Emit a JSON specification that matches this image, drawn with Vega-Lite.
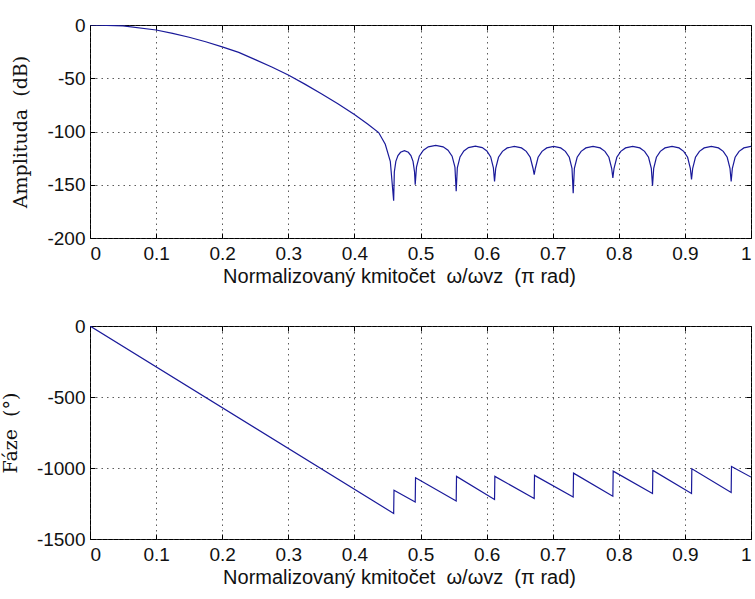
{
  "$schema": "https://vega.github.io/schema/vega-lite/v6.json",
  "autosize": {"type": "pad"},
  "padding": {"left": 0, "top": 15, "right": 0, "bottom": 4},
  "background": "white",
  "spacing": 88,
  "bounds": "flush",
  "config": {
    "view": {"stroke": "black", "strokeWidth": 1},
    "axis": {
      "domain": false,
      "ticks": true,
      "tickSize": -5,
      "tickColor": "black",
      "labelFont": "Liberation Sans",
      "labelFontSize": 19,
      "labelColor": "#111111",
      "titleFont": "Liberation Sans",
      "titleFontWeight": "normal",
      "titleColor": "#111111",
      "gridColor": "#333333",
      "gridDash": [1.5, 4],
      "gridOpacity": 0.8,
      "gridWidth": 1
    },
    "axisX": {"labelPadding": 11},
    "axisY": {"labelPadding": 10}
  },
  "datasets": {
    "amp": [
      {"f": 0, "a": 0}, {"f": 0.05, "a": -0.8}, {"f": 0.1, "a": -4.7}, {"f": 0.125, "a": -7.8}, {"f": 0.15, "a": -11.5},
      {"f": 0.175, "a": -15.7}, {"f": 0.2, "a": -20.5}, {"f": 0.225, "a": -25.7}, {"f": 0.25, "a": -32.5},
      {"f": 0.275, "a": -39.5}, {"f": 0.3, "a": -47}, {"f": 0.325, "a": -55.5}, {"f": 0.35, "a": -64.5},
      {"f": 0.375, "a": -74}, {"f": 0.4, "a": -84}, {"f": 0.42, "a": -93}, {"f": 0.4367, "a": -101}, {"f": 0.4467, "a": -112},
      {"f": 0.4543, "a": -128}, {"f": 0.4594, "a": -165},
      {"f": 0.4604, "a": -138}, {"f": 0.4627, "a": -128}, {"f": 0.4659, "a": -122.6}, {"f": 0.4698, "a": -119.5},
      {"f": 0.4757, "a": -118}, {"f": 0.4816, "a": -119.5}, {"f": 0.4855, "a": -122.6}, {"f": 0.4887, "a": -128},
      {"f": 0.491, "a": -138}, {"f": 0.492, "a": -150},
      {"f": 0.4939, "a": -133.5}, {"f": 0.4982, "a": -123.2}, {"f": 0.5044, "a": -117.6}, {"f": 0.5118, "a": -114.4},
      {"f": 0.523, "a": -113}, {"f": 0.5342, "a": -114.4}, {"f": 0.5416, "a": -117.6}, {"f": 0.5478, "a": -123.2},
      {"f": 0.5521, "a": -133.5}, {"f": 0.554, "a": -156},
      {"f": 0.5557, "a": -134.2}, {"f": 0.5598, "a": -123.9}, {"f": 0.5656, "a": -118.3}, {"f": 0.5726, "a": -115.1},
      {"f": 0.583, "a": -113.7}, {"f": 0.5934, "a": -115.1}, {"f": 0.6004, "a": -118.3}, {"f": 0.6062, "a": -123.9},
      {"f": 0.6103, "a": -134.2}, {"f": 0.612, "a": -147},
      {"f": 0.6138, "a": -134.5}, {"f": 0.618, "a": -124.2}, {"f": 0.624, "a": -118.6}, {"f": 0.6312, "a": -115.4},
      {"f": 0.642, "a": -114}, {"f": 0.6528, "a": -115.4}, {"f": 0.66, "a": -118.6}, {"f": 0.666, "a": -124.2},
      {"f": 0.6702, "a": -134.5}, {"f": 0.672, "a": -140.5},
      {"f": 0.6738, "a": -134.5}, {"f": 0.6779, "a": -124.2}, {"f": 0.6838, "a": -118.6}, {"f": 0.6909, "a": -115.4},
      {"f": 0.7015, "a": -114}, {"f": 0.7121, "a": -115.4}, {"f": 0.7192, "a": -118.6}, {"f": 0.7251, "a": -124.2},
      {"f": 0.7292, "a": -134.5}, {"f": 0.731, "a": -158},
      {"f": 0.7328, "a": -134.5}, {"f": 0.737, "a": -124.2}, {"f": 0.743, "a": -118.6}, {"f": 0.7502, "a": -115.4},
      {"f": 0.761, "a": -114}, {"f": 0.7718, "a": -115.4}, {"f": 0.779, "a": -118.6}, {"f": 0.785, "a": -124.2},
      {"f": 0.7892, "a": -134.5}, {"f": 0.791, "a": -143.5},
      {"f": 0.7928, "a": -134.5}, {"f": 0.797, "a": -124.2}, {"f": 0.803, "a": -118.6}, {"f": 0.8102, "a": -115.4},
      {"f": 0.821, "a": -114}, {"f": 0.8318, "a": -115.4}, {"f": 0.839, "a": -118.6}, {"f": 0.845, "a": -124.2},
      {"f": 0.8492, "a": -134.5}, {"f": 0.851, "a": -151},
      {"f": 0.8528, "a": -134.5}, {"f": 0.8569, "a": -124.2}, {"f": 0.8628, "a": -118.6}, {"f": 0.8699, "a": -115.4},
      {"f": 0.8805, "a": -114}, {"f": 0.8911, "a": -115.4}, {"f": 0.8982, "a": -118.6}, {"f": 0.9041, "a": -124.2},
      {"f": 0.9082, "a": -134.5}, {"f": 0.91, "a": -145},
      {"f": 0.9118, "a": -134.5}, {"f": 0.916, "a": -124.2}, {"f": 0.922, "a": -118.6}, {"f": 0.9292, "a": -115.4},
      {"f": 0.94, "a": -114}, {"f": 0.9508, "a": -115.4}, {"f": 0.958, "a": -118.6}, {"f": 0.964, "a": -124.2},
      {"f": 0.9682, "a": -134.5}, {"f": 0.97, "a": -147},
      {"f": 0.9718, "a": -134.5}, {"f": 0.976, "a": -124.2}, {"f": 0.982, "a": -118.6}, {"f": 0.9892, "a": -115.4},
      {"f": 1.0, "a": -114}
    ],
    "phase": [
      {"f": 0, "p": 0}, {"f": 0.4594, "p": -1320}, {"f": 0.4599, "p": -1157},
      {"f": 0.492, "p": -1239}, {"f": 0.4925, "p": -1068},
      {"f": 0.554, "p": -1232}, {"f": 0.5545, "p": -1059},
      {"f": 0.612, "p": -1222}, {"f": 0.6125, "p": -1059},
      {"f": 0.672, "p": -1215}, {"f": 0.6725, "p": -1052},
      {"f": 0.731, "p": -1204}, {"f": 0.7315, "p": -1036},
      {"f": 0.791, "p": -1199}, {"f": 0.7915, "p": -1022},
      {"f": 0.851, "p": -1180}, {"f": 0.8515, "p": -1017},
      {"f": 0.91, "p": -1180}, {"f": 0.9105, "p": -1005},
      {"f": 0.97, "p": -1173}, {"f": 0.9705, "p": -989},
      {"f": 1.0, "p": -1064}
    ]
  },
  "vconcat": [
    {
      "width": 661,
      "height": 213,
      "data": {"name": "amp"},
      "layer": [
        {
          "mark": {"type": "line", "color": "#1a1a9a", "strokeWidth": 1.2, "clip": true},
          "encoding": {
            "x": {"field": "f", "type": "quantitative",
                  "scale": {"domain": [0, 1], "nice": false, "zero": false},
                  "axis": {"orient": "bottom", "values": [0, 0.1, 0.2, 0.3, 0.4, 0.5, 0.6, 0.7, 0.8, 0.9, 1],
                           "labelExpr": "'' + datum.value", "grid": true,
                           "title": "Normalizovaný kmitočet\u00a0\u00a0ω/ωvz\u00a0\u00a0(π rad)", "titleFontSize": 20, "titlePadding": 3, "titleX": 309}},
            "y": {"field": "a", "type": "quantitative",
                  "scale": {"domain": [-200, 0], "nice": false, "zero": false},
                  "axis": {"orient": "left", "values": [-200, -150, -100, -50, 0],
                           "labelExpr": "'' + datum.value", "grid": true,
                           "title": "Amplituda\u00a0\u00a0(dB)", "titleFont": "DejaVu Serif", "titleFontSize": 19, "titlePadding": 16}}
          }
        },
        {
          "mark": {"type": "line", "opacity": 0},
          "encoding": {
            "x": {"field": "f", "type": "quantitative",
                  "axis": {"orient": "top", "values": [0, 0.1, 0.2, 0.3, 0.4, 0.5, 0.6, 0.7, 0.8, 0.9, 1],
                           "labels": false, "grid": false, "title": null}},
            "y": {"field": "a", "type": "quantitative",
                  "axis": {"orient": "right", "values": [-200, -150, -100, -50, 0],
                           "labels": false, "grid": false, "title": null}}
          }
        }
      ],
      "resolve": {"axis": {"x": "independent", "y": "independent"}}
    },
    {
      "width": 661,
      "height": 213,
      "data": {"name": "phase"},
      "layer": [
        {
          "mark": {"type": "line", "color": "#1a1a9a", "strokeWidth": 1.2, "clip": true},
          "encoding": {
            "x": {"field": "f", "type": "quantitative",
                  "scale": {"domain": [0, 1], "nice": false, "zero": false},
                  "axis": {"orient": "bottom", "values": [0, 0.1, 0.2, 0.3, 0.4, 0.5, 0.6, 0.7, 0.8, 0.9, 1],
                           "labelExpr": "'' + datum.value", "grid": true,
                           "title": "Normalizovaný kmitočet\u00a0\u00a0ω/ωvz\u00a0\u00a0(π rad)", "titleFontSize": 20, "titlePadding": 3, "titleX": 309}},
            "y": {"field": "p", "type": "quantitative",
                  "scale": {"domain": [-1500, 0], "nice": false, "zero": false},
                  "axis": {"orient": "left", "values": [-1500, -1000, -500, 0],
                           "labelExpr": "'' + datum.value", "grid": true,
                           "title": "Fáze\u00a0\u00a0(°)", "titleFont": "DejaVu Serif", "titleFontSize": 19, "titlePadding": 16}}
          }
        },
        {
          "mark": {"type": "line", "opacity": 0},
          "encoding": {
            "x": {"field": "f", "type": "quantitative",
                  "axis": {"orient": "top", "values": [0, 0.1, 0.2, 0.3, 0.4, 0.5, 0.6, 0.7, 0.8, 0.9, 1],
                           "labels": false, "grid": false, "title": null}},
            "y": {"field": "p", "type": "quantitative",
                  "axis": {"orient": "right", "values": [-1500, -1000, -500, 0],
                           "labels": false, "grid": false, "title": null}}
          }
        }
      ],
      "resolve": {"axis": {"x": "independent", "y": "independent"}}
    }
  ]
}
